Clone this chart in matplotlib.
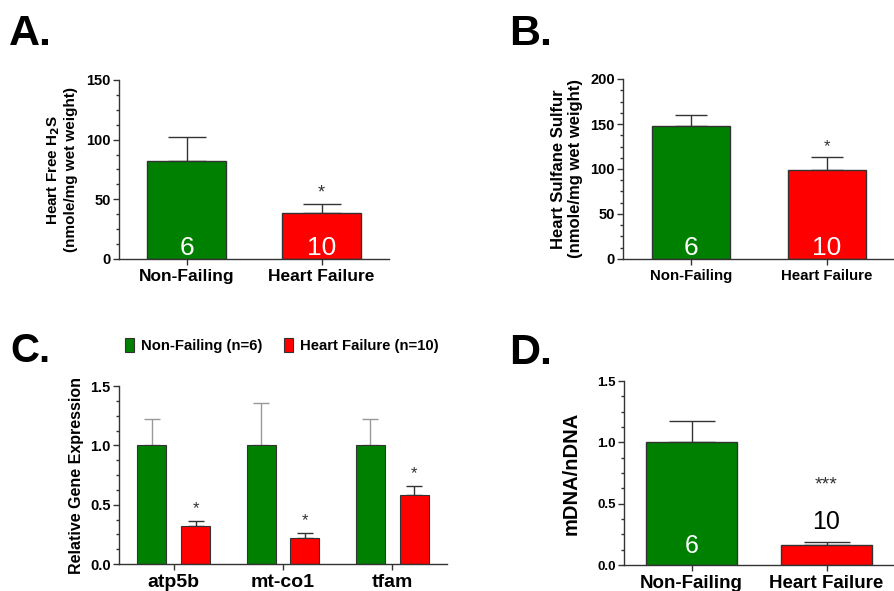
import numpy as np
import matplotlib
matplotlib.use("Agg")
import matplotlib.pyplot as plt
from matplotlib.ticker import AutoMinorLocator

plt.rcParams['font.family'] = ['Liberation Sans', 'DejaVu Sans']

groups = ["Non-Failing", "Heart Failure"]
n_labels = ["6", "10"]

# A: free H2S
h2s_mean = [82, 38.5]
h2s_sem = [20, 7.5]
# B: sulfane sulfur
sulf_mean = [148, 99]
sulf_sem = [12, 14]
# C: gene expression
genes = ["atp5b", "mt-co1", "tfam"]
nf_expr = [1.0, 1.0, 1.0]
nf_expr_sem = [0.22, 0.36, 0.22]
hf_expr = [0.32, 0.22, 0.58]
hf_expr_sem = [0.04, 0.04, 0.075]
# D: mtDNA
mt_mean = [1.0, 0.165]
mt_sem = [0.175, 0.025]

GREEN = "#008000"
RED = "#ff0000"
EDGE = "#333333"

fig = plt.figure(figsize=(8.94, 5.91), dpi=100)
W, H = 894, 591


def add_ax(left, top, right, bottom):
    return fig.add_axes([left / W, 1 - bottom / H, (right - left) / W, (bottom - top) / H])


def style(ax, ymax, step, ytick_fs):
    ax.spines['top'].set_visible(False)
    ax.spines['right'].set_visible(False)
    for s in ['left', 'bottom']:
        ax.spines[s].set_color(EDGE)
        ax.spines[s].set_linewidth(1.0)
    ax.set_ylim(0, ymax)
    ax.set_yticks(np.arange(0, ymax + step / 2, step))
    ax.yaxis.set_minor_locator(AutoMinorLocator(4))
    ax.tick_params(axis='both', colors=EDGE, width=1.0, length=4)
    ax.tick_params(axis='y', which='minor', colors=EDGE, width=1.0, length=2.5)
    ax.tick_params(axis='y', labelsize=ytick_fs, labelcolor='black', pad=2)
    ax.tick_params(axis='x', labelcolor='black')
    for lab in ax.get_yticklabels():
        lab.set_fontweight('bold')


def two_bar(ax, means, sems, width, capsize, xfs):
    x = np.arange(len(groups))
    ax.bar(x, means, width, color=[GREEN, RED], edgecolor=EDGE, linewidth=1.0, zorder=2)
    ax.errorbar(x, means, yerr=[np.zeros(len(means)), sems], fmt='none',
                ecolor=EDGE, elinewidth=1.0, capsize=capsize, capthick=1.0, zorder=1)
    ax.set_xlim(-0.5, 1.5)
    ax.set_xticks(x)
    ax.set_xticklabels(groups, fontsize=xfs, fontweight='bold')
    return x


# ---- A ----
axA = add_ax(119, 80, 389, 259)
style(axA, 150, 50, 10.5)
xA = two_bar(axA, h2s_mean, h2s_sem, 0.58, 14, 12.5)
for xi, t in zip(xA, n_labels):
    axA.text(xi, 3.3, t, color='white', fontsize=19, ha='center', va='baseline')
axA.text(xA[1], h2s_mean[1] + h2s_sem[1] + 2, "*", ha='center', va='bottom', fontsize=13, color='#333333')
axA.set_ylabel("Heart Free H$_\\mathbf{2}$S\n(nmole/mg wet weight)", fontsize=11, fontweight='bold', labelpad=6)
fig.text(9 / W, 1 - 45 / H, "A.", fontsize=31, fontweight='bold', va='baseline')

# ---- B ----
axB = add_ax(623, 79, 895, 259)
style(axB, 200, 50, 10.5)
xB = two_bar(axB, sulf_mean, sulf_sem, 0.58, 11.5, 10.8)
for xi, t in zip(xB, n_labels):
    axB.text(xi, 4.4, t, color='white', fontsize=19, ha='center', va='baseline')
axB.text(xB[1], sulf_mean[1] + sulf_sem[1] + 3, "*", ha='center', va='bottom', fontsize=12, color='#333333')
axB.set_ylabel("Heart Sulfane Sulfur\n(nmole/mg wet weight)", fontsize=12, fontweight='bold', labelpad=5)
fig.text(509 / W, 1 - 45 / H, "B.", fontsize=31, fontweight='bold', va='baseline')

# ---- C ----
axC = add_ax(119, 386, 447, 564)
style(axC, 1.5, 0.5, 10.5)
xg = np.arange(len(genes))
bw = 0.265
off = 0.2
axC.bar(xg - off, nf_expr, bw, color=GREEN, edgecolor=EDGE, linewidth=0.8, zorder=2,
        label="Non-Failing (n=6)")
axC.bar(xg + off, hf_expr, bw, color=RED, edgecolor=EDGE, linewidth=0.8, zorder=2,
        label="Heart Failure (n=10)")
axC.errorbar(xg - off, nf_expr, yerr=[np.zeros(3), nf_expr_sem], fmt='none', ecolor='#999999',
             elinewidth=1.0, capsize=5.5, capthick=1.0, zorder=1)
axC.errorbar(xg + off, hf_expr, yerr=[np.zeros(3), hf_expr_sem], fmt='none', ecolor=EDGE,
             elinewidth=1.0, capsize=5.5, capthick=1.0, zorder=1)
for xi, m, s in zip(xg, hf_expr, hf_expr_sem):
    axC.text(xi + off, m + s + 0.04, "*", ha='center', va='bottom', fontsize=12, color='#333333')
axC.set_xlim(-0.5, 2.5)
axC.set_xticks(xg)
axC.set_xticklabels(genes, fontsize=14, fontweight='bold')
axC.set_ylabel("Relative Gene Expression", fontsize=11.5, fontweight='bold', labelpad=4)
axC.legend(loc='lower left', bbox_to_anchor=(0.0, 1.15), ncol=2, frameon=False,
           prop={'weight': 'bold', 'size': 10.7}, handlelength=0.6, handleheight=1.1,
           handletextpad=0.45, columnspacing=1.5, borderaxespad=0)
fig.text(10 / W, 1 - 362 / H, "C.", fontsize=29, fontweight='bold', va='baseline')

# ---- D ----
axD = add_ax(624, 381, 894, 565)
style(axD, 1.5, 0.5, 9.5)
xD = two_bar(axD, mt_mean, mt_sem, 0.67, 16.5, 13.5)
axD.text(xD[0], 0.1, n_labels[0], color='white', fontsize=18, ha='center', va='baseline')
axD.text(xD[1], 0.29, n_labels[1], color='black', fontsize=18, ha='center', va='baseline')
axD.text(xD[1], 0.58, "***", ha='center', va='bottom', fontsize=14, color='#333333')
axD.set_ylabel("mDNA/nDNA", fontsize=14.5, fontweight='bold', labelpad=12)
fig.text(509 / W, 1 - 364 / H, "D.", fontsize=31, fontweight='bold', va='baseline')

fig.savefig("out.png", dpi=100)
